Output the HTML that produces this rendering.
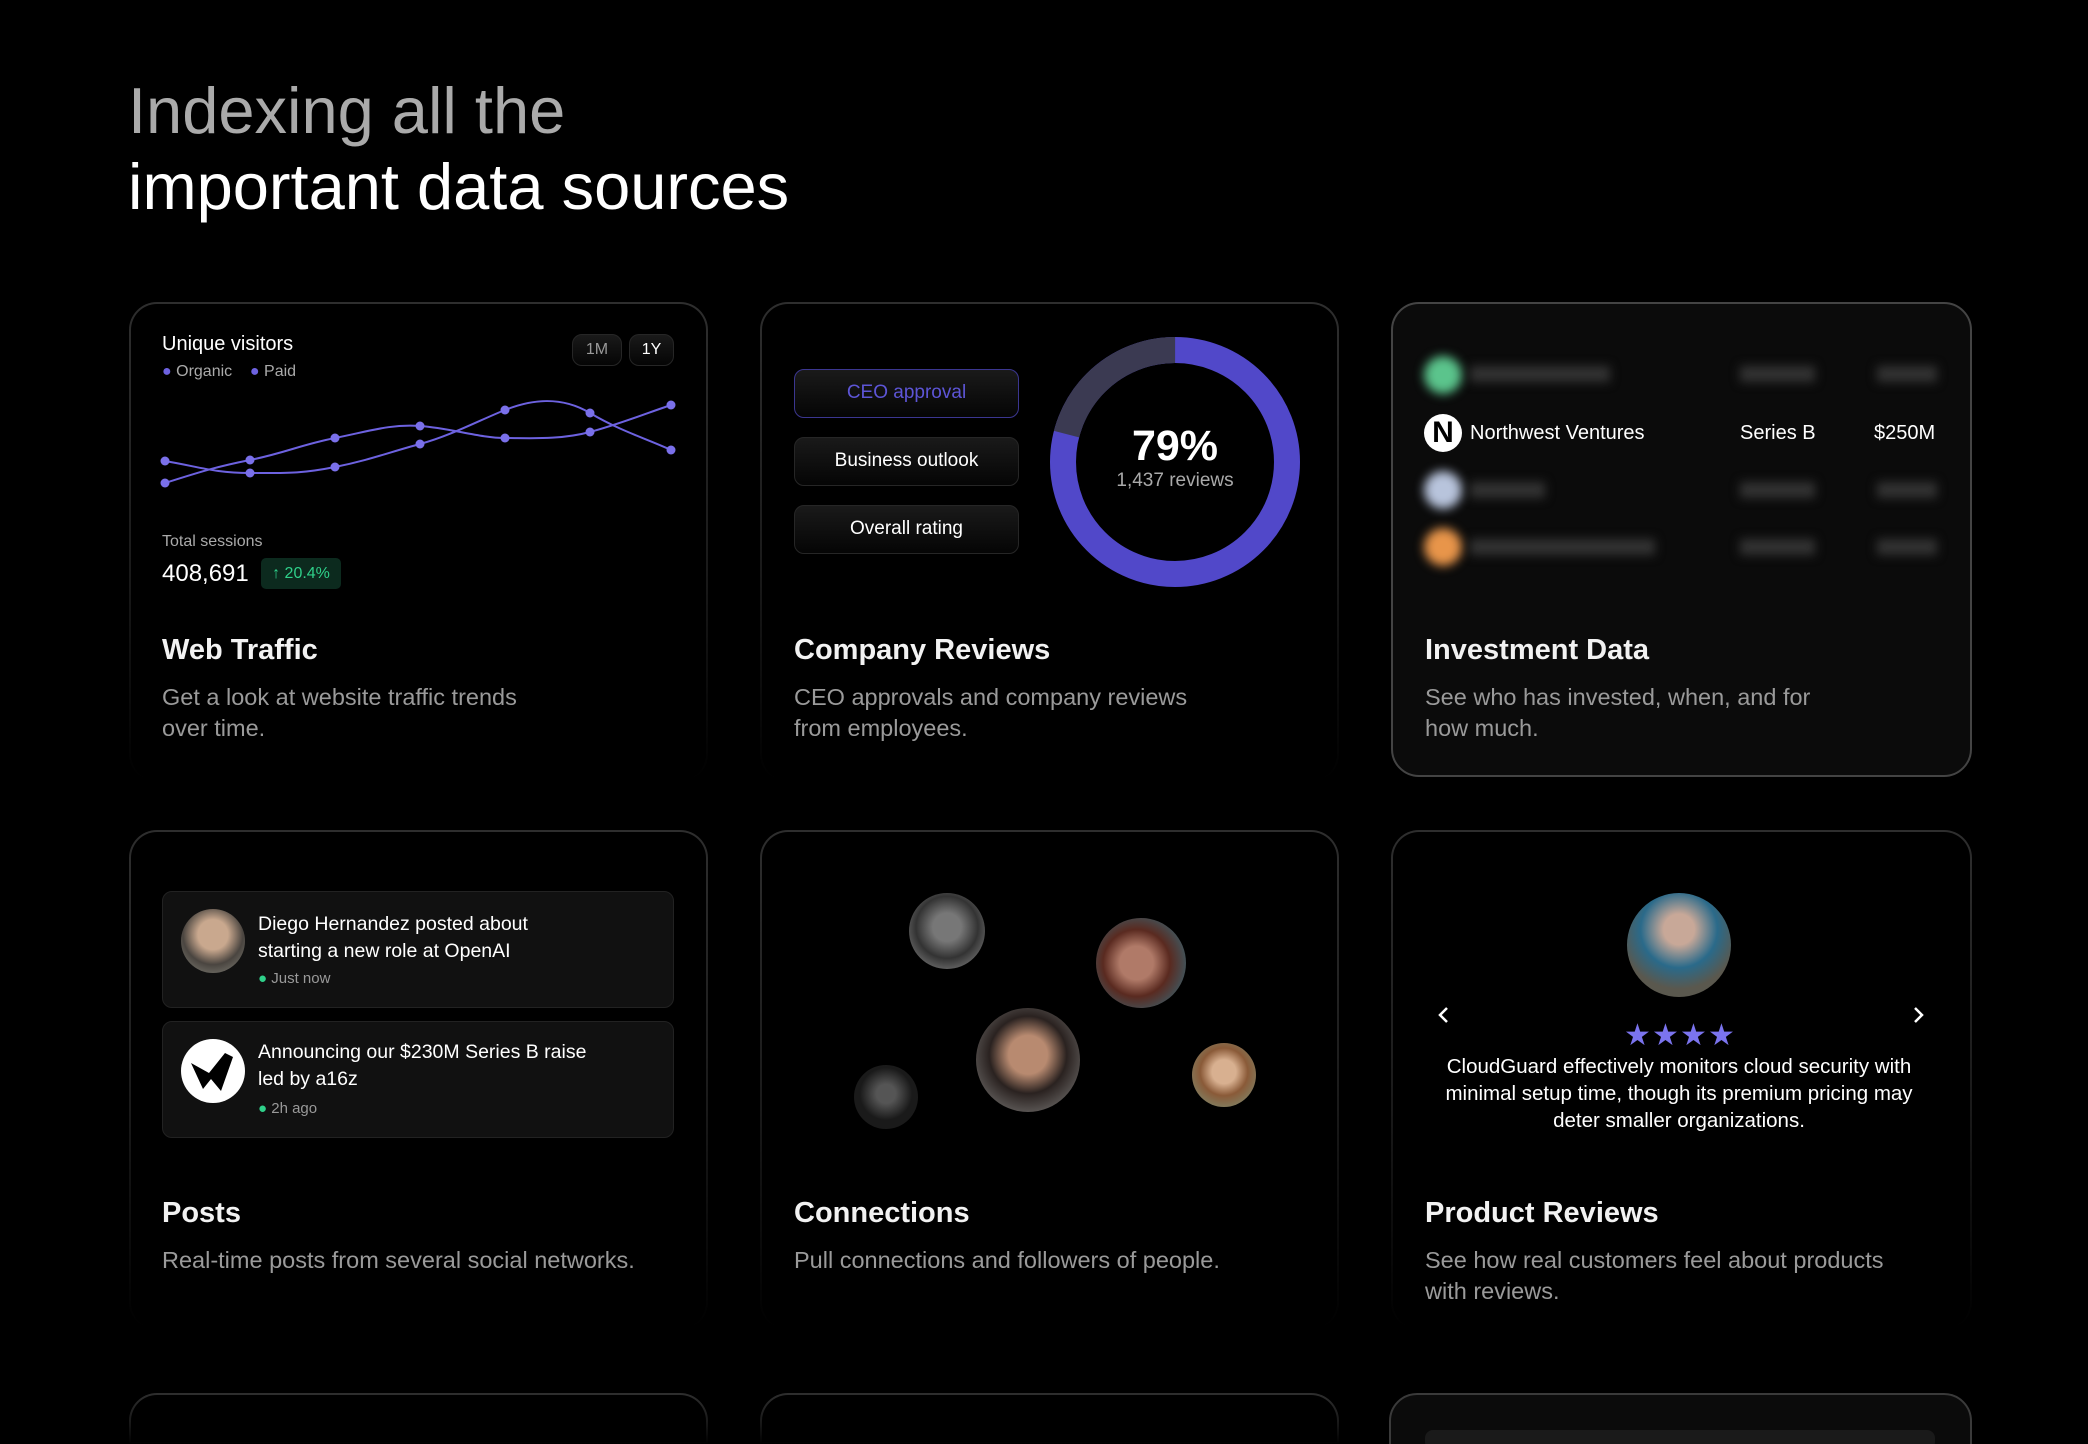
<!DOCTYPE html>
<html style="width:2088px;height:1444px;overflow:hidden"><head><meta charset="utf-8"><style>
*{margin:0;padding:0;box-sizing:border-box}
body{width:2088px;height:1444px;background:#000;font-family:"Liberation Sans",sans-serif;color:#fff;position:relative;overflow:hidden}
.a{position:absolute}
.card{position:absolute;border-radius:28px;padding:2px;background:linear-gradient(180deg,#2e2e2e 0%,#1a1a1a 55%,rgba(0,0,0,0) 100%)}
.card>.in{width:100%;height:100%;border-radius:26px;background:#000}
.t{font-size:29px;font-weight:bold;color:#f2f2f2}
.d{font-size:23.5px;color:#9a9a9a;line-height:31px}
.btn{position:absolute;border-radius:10px;background:linear-gradient(180deg,#1a1a1a,#050505);border:1.5px solid #262626;text-align:center;font-size:19px;color:#fff}
.post{position:absolute;left:162px;width:512px;height:117px;background:#111;border:1.5px solid #222;border-radius:10px}
.av{position:absolute;border-radius:50%}
</style></head><body>
<div class="a" style="left:128px;top:72px;font-size:65px;line-height:78px;color:#aaa">Indexing all the</div>
<div class="a" style="left:128px;top:148px;font-size:65px;line-height:78px;color:#fff">important data sources</div>

<div class="card" style="left:129px;top:302px;width:579px;height:480px"><div class="in"></div></div>
<div class="card" style="left:760px;top:302px;width:579px;height:480px"><div class="in"></div></div>
<div class="a" style="left:1391px;top:302px;width:581px;height:475px;border-radius:28px;border:2px solid #444;background:#0b0b0b"></div>
<div class="card" style="left:129px;top:830px;width:579px;height:500px"><div class="in"></div></div>
<div class="card" style="left:760px;top:830px;width:579px;height:500px"><div class="in"></div></div>
<div class="card" style="left:1391px;top:830px;width:581px;height:500px"><div class="in"></div></div>
<div class="card" style="left:129px;top:1393px;width:579px;height:51px;border-radius:28px 28px 0 0"><div class="in" style="border-radius:26px 26px 0 0"></div></div>
<div class="card" style="left:760px;top:1393px;width:579px;height:51px;border-radius:28px 28px 0 0"><div class="in" style="border-radius:26px 26px 0 0"></div></div>
<div class="a" style="left:1389px;top:1393px;width:583px;height:60px;border-radius:28px 28px 0 0;border:2px solid #3a3a3a;background:#0b0b0b"></div>
<div class="a" style="left:1425px;top:1430px;width:510px;height:20px;border-radius:8px;background:#1a1a1a"></div>

<!-- Web traffic -->
<div class="a" style="left:162px;top:333px;font-size:20px">Unique visitors</div>
<div class="a" style="left:162px;top:363px;font-size:16px;color:#aaa"><span style="color:#6d62e0">●</span> Organic &nbsp;&nbsp; <span style="color:#6d62e0">●</span> Paid</div>
<div class="btn" style="left:572px;top:334px;width:50px;height:32px;line-height:30px;font-size:16px;color:#999">1M</div>
<div class="btn" style="left:629px;top:334px;width:45px;height:32px;line-height:30px;font-size:16px">1Y</div>
<svg class="a" style="left:0;top:0" width="2088" height="1444">
<g fill="none" stroke="#6d62e0" stroke-width="2">
<path d="M165,461 C200,467 215,473 250,473 S300,474 335,467 S390,452 420,444 S480,420 505,410 S560,395 590,413 S650,440 671,450"/>
<path d="M165,483 C200,472 215,467 250,460 S300,445 335,438 S390,424 420,426 S480,438 505,438 S560,440 590,432 S650,412 671,405"/>
</g>
<g fill="#7a70ea">
<circle cx="165" cy="461" r="4.5"/><circle cx="250" cy="473" r="4.5"/><circle cx="335" cy="467" r="4.5"/><circle cx="420" cy="444" r="4.5"/><circle cx="505" cy="410" r="4.5"/><circle cx="590" cy="413" r="4.5"/><circle cx="671" cy="450" r="4.5"/>
<circle cx="165" cy="483" r="4.5"/><circle cx="250" cy="460" r="4.5"/><circle cx="335" cy="438" r="4.5"/><circle cx="420" cy="426" r="4.5"/><circle cx="505" cy="438" r="4.5"/><circle cx="590" cy="432" r="4.5"/><circle cx="671" cy="405" r="4.5"/>
</g>
<circle cx="1175" cy="462" r="112" fill="none" stroke="#5148c9" stroke-width="26"/>
<circle cx="1175" cy="462" r="112" fill="none" stroke="#3b3a52" stroke-width="26" stroke-dasharray="147.8 1000" transform="rotate(-165.6 1175 462)"/>
<g fill="#7b74ee" font-size="30">
<text x="1624" y="1045">★</text><text x="1652" y="1045">★</text><text x="1680" y="1045">★</text><text x="1708" y="1045">★</text>
</g>
<g fill="none" stroke="#fff" stroke-width="2.5"><path d="M1447,1008 l-7,7 l7,7"/><path d="M1915,1008 l7,7 l-7,7"/></g>
</svg>
<div class="a" style="left:162px;top:533px;font-size:16px;color:#aaa">Total sessions</div>
<div class="a" style="left:162px;top:560px;font-size:24px">408,691</div>
<div class="a" style="left:261px;top:558px;width:80px;height:31px;border-radius:5px;background:#0c2a1e;color:#2fd08a;font-size:16px;line-height:31px;text-align:center">↑ 20.4%</div>
<div class="a t" style="left:162px;top:634px">Web Traffic</div>
<div class="a d" style="left:162px;top:682px">Get a look at website traffic trends<br>over time.</div>

<!-- Company reviews -->
<div class="btn" style="left:794px;top:369px;width:225px;height:49px;line-height:46px;border-color:#3b3690;color:#5d55d6">CEO approval</div>
<div class="btn" style="left:794px;top:437px;width:225px;height:49px;line-height:46px">Business outlook</div>
<div class="btn" style="left:794px;top:505px;width:225px;height:49px;line-height:46px">Overall rating</div>
<div class="a" style="left:1075px;top:422px;width:200px;text-align:center;font-size:43px;font-weight:bold">79%</div>
<div class="a" style="left:1075px;top:470px;width:200px;text-align:center;font-size:19px;color:#aaa">1,437 reviews</div>
<div class="a t" style="left:794px;top:634px">Company Reviews</div>
<div class="a d" style="left:794px;top:682px">CEO approvals and company reviews<br>from employees.</div>

<!-- Investment -->
<div class="a" style="left:1424px;top:356px;width:38px;height:38px;border-radius:50%;background:#5bc48c;filter:blur(5px)"></div>
<div class="a" style="left:1470px;top:366px;width:140px;height:16px;background:#333;filter:blur(5px)"></div>
<div class="a" style="left:1740px;top:366px;width:75px;height:16px;background:#333;filter:blur(5px)"></div>
<div class="a" style="left:1877px;top:366px;width:60px;height:16px;background:#333;filter:blur(5px)"></div>
<div class="a" style="left:1424px;top:414px;width:38px;height:38px;border-radius:50%;background:#fff;color:#000;font-size:30px;line-height:38px;text-align:center;font-weight:bold">N</div>
<div class="a" style="left:1470px;top:422px;font-size:20px">Northwest Ventures</div>
<div class="a" style="left:1740px;top:422px;font-size:20px">Series B</div>
<div class="a" style="left:1874px;top:422px;font-size:20px">$250M</div>
<div class="a" style="left:1424px;top:471px;width:38px;height:38px;border-radius:50%;background:#b8c4dc;filter:blur(5px)"></div>
<div class="a" style="left:1470px;top:482px;width:75px;height:16px;background:#333;filter:blur(5px)"></div>
<div class="a" style="left:1740px;top:482px;width:75px;height:16px;background:#333;filter:blur(5px)"></div>
<div class="a" style="left:1877px;top:482px;width:60px;height:16px;background:#333;filter:blur(5px)"></div>
<div class="a" style="left:1424px;top:528px;width:38px;height:38px;border-radius:50%;background:#e8954a;filter:blur(5px)"></div>
<div class="a" style="left:1470px;top:539px;width:185px;height:16px;background:#333;filter:blur(5px)"></div>
<div class="a" style="left:1740px;top:539px;width:75px;height:16px;background:#333;filter:blur(5px)"></div>
<div class="a" style="left:1877px;top:539px;width:60px;height:16px;background:#333;filter:blur(5px)"></div>
<div class="a t" style="left:1425px;top:634px">Investment Data</div>
<div class="a d" style="left:1425px;top:682px">See who has invested, when, and for<br>how much.</div>

<!-- Posts -->
<div class="post" style="top:891px"></div>
<div class="av" style="left:181px;top:909px;width:64px;height:64px;background:radial-gradient(circle at 50% 40%,#c9a88e 0 30%,#4a4540 60%,#8a8a80)"></div>
<div class="a" style="left:258px;top:911px;font-size:19.5px;line-height:27px">Diego Hernandez posted about<br>starting a new role at OpenAI</div>
<div class="a" style="left:258px;top:970px;font-size:15px;color:#999"><span style="color:#2fd08a">●</span> Just now</div>
<div class="post" style="top:1021px"></div>
<div class="av" style="left:181px;top:1039px;width:64px;height:64px;background:#fff"></div>
<svg class="a" style="left:181px;top:1039px" width="64" height="64"><path d="M10,24 L28,34 L44,14 L52,18 L40,52 L30,40 L22,50 Z" fill="#000"/></svg>
<div class="a" style="left:258px;top:1039px;font-size:19.5px;line-height:27px">Announcing our $230M Series B raise<br>led by a16z</div>
<div class="a" style="left:258px;top:1100px;font-size:15px;color:#999"><span style="color:#2fd08a">●</span> 2h ago</div>
<div class="a t" style="left:162px;top:1197px">Posts</div>
<div class="a d" style="left:162px;top:1245px">Real-time posts from several social networks.</div>

<!-- Connections -->
<div class="av" style="left:909px;top:893px;width:76px;height:76px;background:radial-gradient(circle at 50% 45%,#777 0 25%,#333 55%,#999)"></div>
<div class="av" style="left:1096px;top:918px;width:90px;height:90px;background:radial-gradient(circle at 45% 50%,#b07a68 0 25%,#5a2a20 50%,#2a7a90)"></div>
<div class="av" style="left:976px;top:1008px;width:104px;height:104px;background:radial-gradient(circle at 50% 45%,#b88a70 0 25%,#2a2220 50%,#8a8a88)"></div>
<div class="av" style="left:854px;top:1065px;width:64px;height:64px;background:radial-gradient(circle at 50% 45%,#555 0 20%,#1a1a1a 55%)"></div>
<div class="av" style="left:1192px;top:1043px;width:64px;height:64px;background:radial-gradient(circle at 50% 45%,#d8b090 0 25%,#8a5a38 50%,#7a9a80)"></div>
<div class="a t" style="left:794px;top:1197px">Connections</div>
<div class="a d" style="left:794px;top:1245px">Pull connections and followers of people.</div>

<!-- Product reviews -->
<div class="av" style="left:1627px;top:893px;width:104px;height:104px;background:radial-gradient(circle at 50% 35%,#c8a898 0 18%,#2a6a8a 45%,#5a584e 70%)"></div>
<div class="a" style="left:1439px;top:1053px;width:480px;text-align:center;font-size:20.5px;line-height:27px">CloudGuard effectively monitors cloud security with minimal setup time, though its premium pricing may deter smaller organizations.</div>
<div class="a t" style="left:1425px;top:1197px">Product Reviews</div>
<div class="a d" style="left:1425px;top:1245px">See how real customers feel about products<br>with reviews.</div>
</body></html>
